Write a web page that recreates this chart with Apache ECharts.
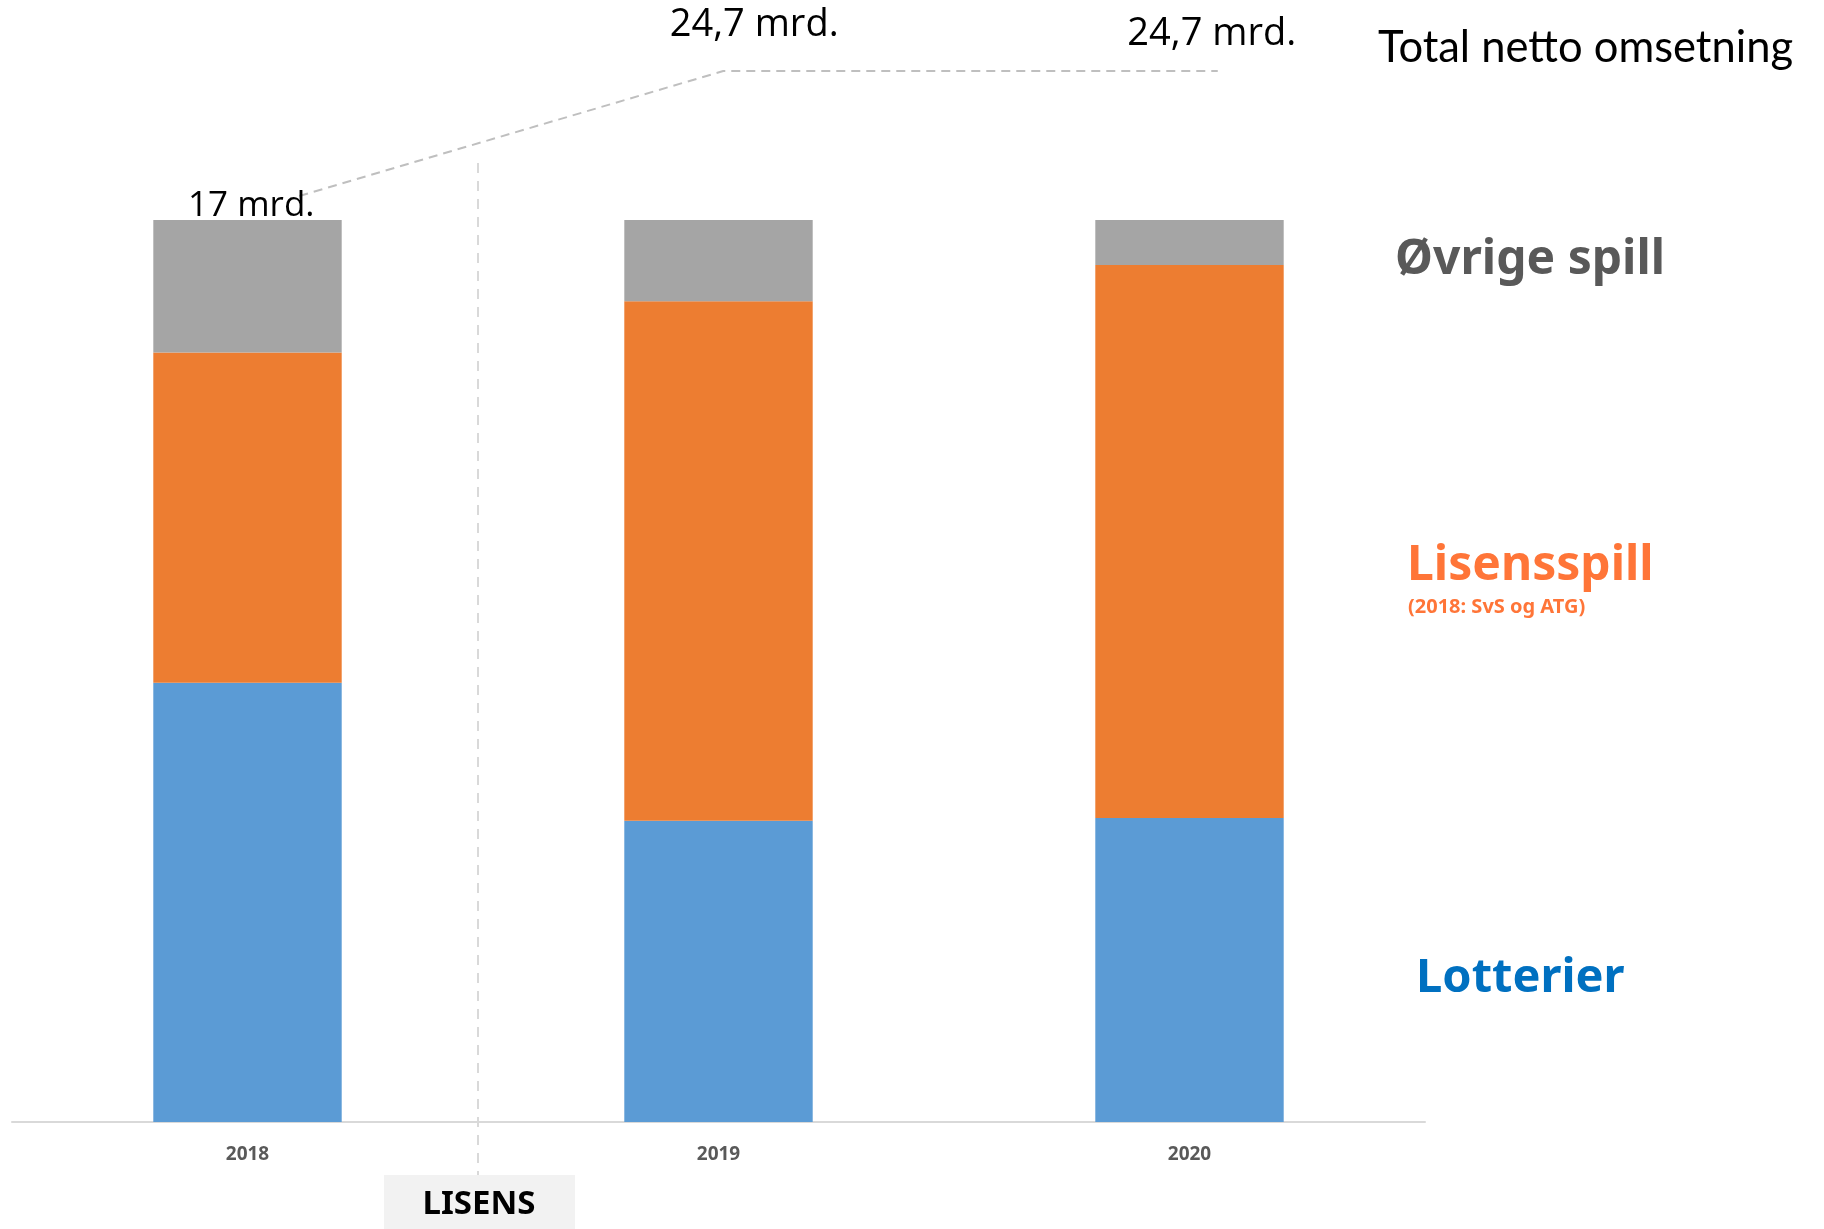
<!DOCTYPE html>
<html>
<head>
<meta charset="utf-8">
<title>Total netto omsetning</title>
<script src="https://cdn.jsdelivr.net/npm/echarts@6/dist/echarts.min.js"></script>
<style>
    html, body {
        margin: 0;
        padding: 0;
        background: #ffffff;
    }

    #chart {
        width: 1824px;
        height: 1229px;
    }
</style>
</head>
<body>
<div id="chart"></div>

<script>
    // data (andel av netto omsetning, %)
    const categories = ['2018', '2019', '2020'];
    const lotterier = [48.7, 33.4, 33.7];
    const lisensspill = [36.6, 57.6, 61.3];
    const ovrigeSpill = [14.7, 9.0, 5.0];

    // total netto omsetning, mrd. kr
    const totals = [17, 24.7, 24.7];
    const totalLabels = ['17 mrd.', '24,7 mrd.', '24,7 mrd.'];

    // placement of the dashed total line relative to each category centre
    const anchorShift = [0.11, 0.01, 0.06];
    const labelOffset = [[-48, 10], [31, -46], [-6, -37]];
    const labelSize = [35, 38, 38];

    const boldFont = '"Noto Sans", sans-serif';

    let myChart = echarts.init(document.getElementById('chart'));

    let option = {
        animation: false,
        backgroundColor: '#ffffff',
        grid: {
            left: 12,
            right: 399,
            top: 220,
            bottom: 107
        },
        xAxis: [
            {
                type: 'category',
                data: categories,
                axisTick: {show: false},
                axisLine: {
                    show: true,
                    lineStyle: {color: '#D9D9D9', width: 2}
                },
                axisLabel: {
                    margin: 23,
                    color: '#595959',
                    fontFamily: boldFont,
                    fontWeight: 'bold',
                    fontSize: 19
                }
            },
            {
                // hidden helper axis for the total line
                type: 'value',
                min: -0.5,
                max: 2.5,
                show: false
            }
        ],
        yAxis: [
            {
                type: 'value',
                min: 0,
                max: 100,
                show: false,
                splitLine: {show: false}
            },
            {
                type: 'value',
                min: -40.06,
                max: 15.52,
                show: false,
                splitLine: {show: false}
            }
        ],
        series: [
            {
                name: 'Lotterier',
                type: 'bar',
                stack: 'total',
                barWidth: '40%',
                itemStyle: {color: '#5B9BD5'},
                data: lotterier
            },
            {
                name: 'Lisensspill',
                type: 'bar',
                stack: 'total',
                barWidth: '40%',
                itemStyle: {color: '#ED7D31'},
                data: lisensspill
            },
            {
                name: 'Øvrige spill',
                type: 'bar',
                stack: 'total',
                barWidth: '40%',
                itemStyle: {color: '#A5A5A5'},
                data: ovrigeSpill
            },
            {
                name: 'Total',
                type: 'line',
                xAxisIndex: 1,
                yAxisIndex: 1,
                clip: false,
                symbol: 'circle',
                symbolSize: 0.1,
                itemStyle: {color: '#BFBFBF'},
                lineStyle: {
                    color: '#BFBFBF',
                    width: 2,
                    type: [9, 6]
                },
                z: 5,
                data: totals.map((v, i) => ({
                    value: [i + anchorShift[i], v],
                    label: {
                        show: true,
                        position: 'inside',
                        offset: labelOffset[i],
                        formatter: totalLabels[i],
                        color: '#000000',
                        fontFamily: '"Open Sans", sans-serif',
                        fontSize: labelSize[i]
                    }
                }))
            }
        ],
        graphic: [
            {
                // skillelinje for lisens
                type: 'line',
                shape: {x1: 478, y1: 163, x2: 478, y2: 1175},
                style: {stroke: '#D9D9D9', lineWidth: 2, lineDash: [10, 8]},
                z: 1
            },
            {
                type: 'rect',
                shape: {x: 384, y: 1175, width: 191, height: 60},
                style: {fill: '#F2F2F2'},
                z: 2
            },
            {
                type: 'text',
                x: 479,
                y: 1205,
                style: {
                    text: 'LISENS',
                    fill: '#000000',
                    font: 'bold 33px "Noto Sans", sans-serif',
                    textAlign: 'center',
                    textVerticalAlign: 'middle'
                },
                z: 3
            },
            {
                type: 'text',
                x: 1378,
                y: 48,
                style: {
                    text: 'Total netto omsetning',
                    fill: '#000000',
                    font: '43.5px Lato, sans-serif',
                    textAlign: 'left',
                    textVerticalAlign: 'middle'
                }
            },
            {
                type: 'text',
                x: 1395,
                y: 260,
                style: {
                    text: 'Øvrige spill',
                    fill: '#595959',
                    font: 'bold 48px ' + boldFont,
                    textAlign: 'left',
                    textVerticalAlign: 'middle'
                }
            },
            {
                type: 'text',
                x: 1407,
                y: 566,
                style: {
                    text: 'Lisensspill',
                    fill: '#FF7538',
                    font: 'bold 48px ' + boldFont,
                    textAlign: 'left',
                    textVerticalAlign: 'middle'
                }
            },
            {
                type: 'text',
                x: 1408,
                y: 607,
                style: {
                    text: '(2018: SvS og ATG)',
                    fill: '#FF7538',
                    font: 'bold 20px ' + boldFont,
                    textAlign: 'left',
                    textVerticalAlign: 'middle'
                }
            },
            {
                type: 'text',
                x: 1416,
                y: 979,
                style: {
                    text: 'Lotterier',
                    fill: '#0070C0',
                    font: 'bold 47px ' + boldFont,
                    textAlign: 'left',
                    textVerticalAlign: 'middle'
                }
            }
        ]
    };

    myChart.setOption(option);
</script>
</body>
</html>
